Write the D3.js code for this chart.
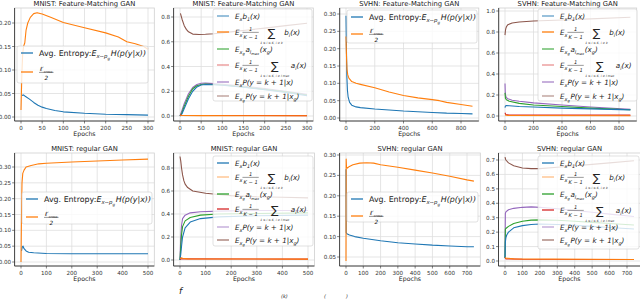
<!DOCTYPE html>
<html lang="en">
<head>
<meta charset="UTF-8">
<title>GAN entropy curves</title>
<style>
  body { margin: 0; background: #fff; }
  svg { font-family: "DejaVu Sans", sans-serif; }
  .tick-label { font-size: 5.6px; fill: #333; }
  .ptitle { font-size: 6.8px; fill: #222; text-anchor: middle; }
  .xlab { font-size: 6.2px; fill: #222; text-anchor: middle; }
  .leg text { fill: #222; }
</style>
</head>
<body>
<script src="https://d3js.org/d3.v7.min.js"></script>
<script>
// ---- data (epoch, value) ----
// MNIST, feature matching
const mnistFmEntropy = [[2,0.046],[6,0.047],[10,0.044],[20,0.038],[30,0.031],[40,0.025],[50,0.021],[60,0.018],[80,0.014],[100,0.011],[150,0.008],[200,0.006],[250,0.005],[300,0.004]]
const mnistFmCross = [[0,0.015],[2,0.09],[4,0.135],[6,0.15],[9,0.158],[12,0.185],[16,0.2],[22,0.212],[30,0.22],[38,0.222],[50,0.219],[70,0.212],[100,0.201],[150,0.19],[200,0.179],[230,0.17],[250,0.16],[270,0.156],[290,0.15],[300,0.144]]
const mnistFmB1 = [[0,0],[5,0.02],[10,0.06],[20,0.14],[30,0.2],[40,0.235],[50,0.25],[60,0.255],[80,0.252],[100,0.248],[150,0.232],[200,0.212],[250,0.19],[300,0.165]]
const mnistFmBi = [[0,0.008],[5,0.004],[50,0.003],[300,0.002]]
const mnistFmAg = [[0,0],[5,0.03],[10,0.08],[20,0.16],[30,0.22],[40,0.245],[50,0.255],[60,0.258],[80,0.255],[100,0.25],[150,0.235],[200,0.215],[250,0.195],[300,0.17]]
const mnistFmAi = [[0,0.01],[3,0.006],[50,0.004],[300,0.003]]
const mnistFmPx = [[0,0],[5,0.05],[10,0.1],[20,0.18],[30,0.23],[40,0.255],[50,0.265],[60,0.266],[80,0.262],[100,0.257],[150,0.242],[200,0.222],[250,0.2],[300,0.175]]
const mnistFmPg = [[1,0.83],[5,0.78],[10,0.73],[15,0.7],[20,0.68],[30,0.662],[45,0.658],[60,0.66],[80,0.665],[120,0.68],[160,0.695],[200,0.71],[250,0.73],[300,0.75]]
// SVHN, feature matching
const svhnFmEntropy = [[0,0.295],[3,0.2],[6,0.12],[10,0.08],[15,0.06],[25,0.045],[40,0.037],[70,0.032],[100,0.03],[200,0.026],[300,0.023],[400,0.02],[500,0.018],[600,0.016],[700,0.014],[800,0.013],[880,0.012]]
const svhnFmCross = [[0,0.235],[2,0.2],[4,0.17],[7,0.14],[12,0.125],[20,0.115],[40,0.105],[70,0.1],[100,0.097],[200,0.087],[300,0.075],[400,0.065],[500,0.058],[600,0.053],[650,0.05],[700,0.045],[800,0.039],[880,0.034]]
const svhnFmB1 = [[0,0.08],[3,0.095],[10,0.1],[30,0.098],[100,0.09],[200,0.085],[400,0.075],[600,0.068],[880,0.058]]
const svhnFmBi = [[0,0.01],[20,0.005],[880,0.003]]
const svhnFmAg = [[0,0.22],[3,0.17],[10,0.155],[30,0.14],[100,0.12],[200,0.105],[400,0.09],[600,0.075],[880,0.06]]
const svhnFmAi = [[0,0.03],[5,0.015],[30,0.01],[880,0.008]]
const svhnFmPx = [[0,0.31],[2,0.22],[5,0.19],[10,0.175],[20,0.165],[50,0.15],[100,0.14],[200,0.125],[400,0.105],[600,0.085],[880,0.065]]
const svhnFmPg = [[0,0.77],[2,0.8],[5,0.83],[10,0.85],[20,0.87],[50,0.885],[100,0.895],[200,0.905],[300,0.91],[400,0.915],[600,0.925],[880,0.94]]
// MNIST, regular GAN
const mnistRgEntropy = [[2,0.035],[5,0.048],[8,0.05],[12,0.042],[20,0.035],[30,0.031],[50,0.029],[100,0.027],[200,0.026],[300,0.026],[500,0.026]]
const mnistRgCross = [[0,0],[2,0.15],[4,0.25],[7,0.28],[12,0.29],[20,0.3],[40,0.305],[70,0.31],[100,0.312],[200,0.316],[300,0.319],[400,0.322],[500,0.325]]
const mnistRgB1 = [[0,0],[3,0.05],[6,0.12],[10,0.2],[20,0.28],[40,0.33],[80,0.36],[150,0.375],[300,0.385],[500,0.39]]
const mnistRgBi = [[0,0.01],[5,0.02],[10,0.015],[30,0.01],[500,0.008]]
const mnistRgAg = [[0,0],[3,0.12],[6,0.22],[10,0.29],[20,0.34],[40,0.37],[80,0.39],[150,0.4],[300,0.405],[500,0.41]]
const mnistRgAi = [[0,0.01],[500,0.008]]
const mnistRgPx = [[0,0],[3,0.2],[6,0.3],[10,0.36],[20,0.39],[40,0.41],[80,0.42],[150,0.425],[300,0.43],[500,0.43]]
const mnistRgPg = [[0,0.9],[3,0.86],[6,0.8],[10,0.74],[15,0.69],[20,0.66],[30,0.63],[50,0.6],[100,0.58],[150,0.57],[200,0.56],[300,0.55],[400,0.545],[500,0.54]]
// SVHN, regular GAN
const svhnRgEntropy = [[0,0.265],[1,0.11],[5,0.107],[20,0.104],[50,0.1],[100,0.096],[200,0.09],[300,0.085],[400,0.082],[500,0.079],[600,0.077],[700,0.075],[740,0.075]]
const svhnRgCross = [[0,0.04],[1,0.29],[3,0.27],[8,0.268],[20,0.272],[40,0.276],[80,0.28],[120,0.281],[160,0.28],[200,0.276],[300,0.27],[400,0.263],[500,0.256],[600,0.248],[700,0.239],[740,0.236]]
const svhnRgB1 = [[0,0.02],[2,0.13],[5,0.16],[10,0.18],[20,0.2],[50,0.23],[100,0.245],[150,0.253],[200,0.256],[300,0.253],[400,0.248],[500,0.24],[600,0.232],[740,0.222]]
const svhnRgBi = [[0,0.025],[5,0.02],[50,0.015],[740,0.01]]
const svhnRgAg = [[0,0.02],[2,0.22],[5,0.225],[20,0.24],[50,0.26],[100,0.275],[150,0.283],[200,0.285],[300,0.282],[400,0.275],[500,0.268],[600,0.26],[740,0.25]]
const svhnRgAi = [[0,0.02],[5,0.015],[100,0.012],[740,0.01]]
const svhnRgPx = [[0,0.02],[2,0.33],[5,0.34],[20,0.355],[50,0.365],[100,0.372],[150,0.375],[200,0.372],[300,0.362],[400,0.35],[500,0.338],[600,0.325],[740,0.308]]
const svhnRgPg = [[0,0.72],[5,0.7],[20,0.68],[50,0.66],[100,0.645],[150,0.64],[200,0.64],[300,0.65],[400,0.66],[500,0.67],[600,0.68],[740,0.695]]

const titles = ['MNIST: Feature-Matching GAN', 'MNIST: Feature-Matching GAN', 'SVHN: Feature-Matching GAN', 'SVHN: Feature-Matching GAN',
                'MNIST: regular GAN', 'MNIST: regular GAN', 'SVHN: regular GAN', 'SVHN: regular GAN']
const xTicksMnistFm = [0, 50, 100, 150, 200, 250, 300]
const xTicksSvhnFm = [0, 200, 400, 600, 800]
const xTicksMnistRg = [0, 100, 200, 300, 400, 500]
const xTicksSvhnRg = [0, 100, 200, 300, 400, 500, 600, 700]
const yTicks005a = [0, 0.05, 0.10, 0.15, 0.20]
const yTicks005b = [0, 0.05, 0.10, 0.15, 0.20, 0.25, 0.30]
const yTicks005c = [0.05, 0.10, 0.15, 0.20, 0.25, 0.30]
const yTicks02a = [0, 0.2, 0.4, 0.6, 0.8]
const yTicks02b = [0, 0.2, 0.4, 0.6, 0.8, 1.0]
const yTicks01 = [0, 0.1, 0.2, 0.3, 0.4, 0.5, 0.6, 0.7]

const blue = '#1f77b4', orange = '#ff7f0e', green = '#2ca02c', red = '#d62728', purple = '#9467bd', brown = '#8c564b'

// ---- math-ish legend labels ----
const entropyLab = [{t: 'Avg. Entropy: ', up: 1}, {t: 'E'}, {sub: 'x∼p', ss: 'g'}, {t: 'H(p(y|x))'}]
const crossLab = [{frac: {num: 'ℓ′', numSub: 'cross', den: '2'}}]
const rightLabs = [
  [{t: 'E'}, {sub: 'x'}, {t: 'b'}, {sub: '1'}, {t: '(x)'}],
  [{t: 'E'}, {sub: 'x'}, {frac: {num: '1', den: 'K − 1'}}, {sum: '1 ≤ i ≤ K, i ≠ k'}, {t: 'b'}, {sub: 'i'}, {t: '(x)'}],
  [{t: 'E'}, {sub: 'x', ss: 'g'}, {t: 'a'}, {sub: 'l', ss: 'max'}, {t: '(x'}, {sub: 'g'}, {t: ')'}],
  [{t: 'E'}, {sub: 'x'}, {frac: {num: '1', den: 'K − 1'}}, {sum: '1 ≤ i ≤ K, i ≠ l max'}, {t: 'a'}, {sub: 'i'}, {t: '(x)'}],
  [{t: 'E'}, {sub: 'x'}, {t: 'P(y = k + 1|x)'}],
  [{t: 'E'}, {sub: 'x', ss: 'g'}, {t: 'P(y = k + 1|x'}, {sub: 'g'}, {t: ')'}]
]

const panels = [
  {box: [14.6, 8, 154.3, 121], xa: [0, 21, 300, 148], ya: [0, 117, 0.2, 23], xt: xTicksMnistFm, yt: yTicks005a, yf: '.2f',
   series: [[mnistFmEntropy, blue], [mnistFmCross, orange]],
   legend: {box: [17, 46, 131, 37], rows: [53, 72], labels: [entropyLab, crossLab], colors: [blue, orange], fs: 7.9}},
  {box: [173.6, 8, 313.3, 121], xa: [0, 180, 300, 307], ya: [0, 116, 0.8, 17], xt: xTicksMnistFm, yt: yTicks02a, yf: '.1f',
   series: [[mnistFmPg, brown], [mnistFmPx, purple], [mnistFmAg, green], [mnistFmB1, blue], [mnistFmAi, red], [mnistFmBi, orange]],
   legend: {box: [213, 9, 99, 92], rows: [16, 32, 49, 65, 82, 96], labels: rightLabs, colors: [blue, orange, green, red, purple, brown], alpha: [0.7, 1, 0.8, 0.5, 0.8, 0.6], fs: 7.2}},
  {box: [339.7, 8, 478.8, 121], xa: [0, 346, 800, 461], ya: [0, 118, 0.3, 14], xt: xTicksSvhnFm, yt: yTicks005b, yf: '.2f',
   series: [[svhnFmEntropy, blue], [svhnFmCross, orange]],
   legend: {box: [347, 10, 130, 33], rows: [17, 34], labels: [entropyLab, crossLab], colors: [blue, orange], fs: 7.9}},
  {box: [498.7, 8, 636.7, 121], xa: [0, 505, 800, 619], ya: [0, 116, 1.0, 11], xt: xTicksSvhnFm, yt: yTicks02b, yf: '.1f',
   series: [[svhnFmPg, brown], [svhnFmPx, purple], [svhnFmAg, green], [svhnFmB1, blue], [svhnFmAi, red], [svhnFmBi, orange]],
   legend: {box: [538, 9, 99, 92], rows: [16, 32, 49, 65, 82, 96], labels: rightLabs, colors: [blue, orange, green, red, purple, brown], alpha: [0.7, 1, 0.8, 0.5, 0.8, 0.6], fs: 7.2}},
  {box: [14.6, 153, 154.3, 266], xa: [0, 21, 500, 148], ya: [0, 262, 0.3, 167], xt: xTicksMnistRg, yt: yTicks005b, yf: '.2f',
   series: [[mnistRgEntropy, blue], [mnistRgCross, orange]],
   legend: {box: [22, 192, 130, 32], rows: [199, 217], labels: [entropyLab, crossLab], colors: [blue, orange], fs: 7.9}},
  {box: [173.6, 153, 314.4, 266], xa: [0, 180, 500, 308], ya: [0, 260, 0.8, 168], xt: xTicksMnistRg, yt: yTicks02a, yf: '.1f',
   series: [[mnistRgPg, brown], [mnistRgPx, purple], [mnistRgAg, green], [mnistRgB1, blue], [mnistRgAi, red], [mnistRgBi, orange]],
   legend: {box: [213, 156, 100, 90], rows: [163, 177, 194, 209, 227, 240], labels: rightLabs, colors: [blue, orange, green, red, purple, brown], alpha: [1, 0.5, 1, 1, 0.6, 0.8], fs: 7.2}},
  {box: [339.6, 153, 480.3, 266], xa: [0, 346, 700, 467], ya: [0.05, 257, 0.3, 155], xt: xTicksSvhnRg, yt: yTicks005c, yf: '.2f',
   series: [[svhnRgEntropy, blue], [svhnRgCross, orange]],
   legend: {box: [347, 192, 131, 30], rows: [199, 216], labels: [entropyLab, crossLab], colors: [blue, orange], fs: 7.9}},
  {box: [498.5, 153, 640.4, 266], xa: [0, 505, 700, 627], ya: [0, 261, 0.7, 160], xt: xTicksSvhnRg, yt: yTicks01, yf: '.1f',
   series: [[svhnRgPg, brown], [svhnRgPx, purple], [svhnRgAg, green], [svhnRgB1, blue], [svhnRgAi, red], [svhnRgBi, orange]],
   legend: {box: [538, 156, 101, 93], rows: [163, 177, 194, 210, 227, 240], labels: rightLabs, colors: [blue, orange, green, red, purple, brown], alpha: [1, 0.5, 1, 1, 0.6, 0.8], fs: 7.2}}
]

const svg = d3.select('body').append('svg')
  .attr('width', 640)
  .attr('height', 300)

function addText (g, str, x, y, size, italic) {
  const t = g.append('text')
    .attr('x', x).attr('y', y)
    .attr('font-size', size)
    .attr('font-style', italic ? 'italic' : 'normal')
    .text(str)
  return [t, t.node().getComputedTextLength()]
}

// lays the pieces one after the other, measuring as it goes
function mathText (g, x, y, parts, fs) {
  let cx = x
  parts.forEach(p => {
    if (p.t !== undefined) {
      cx += addText(g, p.t, cx, y, fs, !p.up)[1]
    } else if (p.sub !== undefined) {
      cx += addText(g, p.sub, cx, y + fs * 0.3, fs * 0.68, true)[1]
      if (p.ss) cx += addText(g, p.ss, cx, y + fs * 0.5, fs * 0.5, true)[1] + fs * 0.1
    } else if (p.frac) {
      const s = fs * 0.72
      const [tn, wn0] = addText(g, p.frac.num, 0, y - fs * 0.42, s, true)
      let wn = wn0, ts = null
      if (p.frac.numSub) {
        const r = addText(g, p.frac.numSub, 0, y - fs * 0.22, s * 0.6, true)
        ts = r[0]; wn += r[1]
      }
      const [td, wd] = addText(g, p.frac.den, 0, y + fs * 0.62, s, true)
      const w = Math.max(wn, wd) + 2
      tn.attr('x', cx + (w - wn) / 2)
      if (ts) ts.attr('x', cx + (w - wn) / 2 + wn0)
      td.attr('x', cx + (w - wd) / 2)
      g.append('line').attr('x1', cx).attr('x2', cx + w)
        .attr('y1', y - fs * 0.3).attr('y2', y - fs * 0.3)
        .attr('stroke', '#222').attr('stroke-width', 0.45)
      cx += w + fs * 0.2
    } else if (p.sum) {
      // big sigma with its limits set low beneath it
      const [tsg, ws] = addText(g, '∑', 0, y + fs * 0.3, fs * 1.55, false)
      const [tu, wu] = addText(g, p.sum, 0, y + fs * 1.25, fs * 0.42, true)
      const w = Math.max(ws, wu)
      tsg.attr('x', cx + (w - ws) / 2)
      tu.attr('x', cx + (w - wu) / 2)
      cx += w + fs * 0.2
    }
  })
  return cx
}

panels.forEach((p, pi) => {
  const [x0, y0, x1, y1] = p.box
  const x = d3.scaleLinear().domain([p.xa[0], p.xa[2]]).range([p.xa[1], p.xa[3]])
  const y = d3.scaleLinear().domain([p.ya[0], p.ya[2]]).range([p.ya[1], p.ya[3]])
  const g = svg.append('g')

  // grid
  g.selectAll('.gx').data(p.xt).enter().append('line')
    .attr('x1', d => x(d)).attr('x2', d => x(d)).attr('y1', y0).attr('y2', y1)
    .attr('stroke', '#dedede').attr('stroke-width', 0.8)
  g.selectAll('.gy').data(p.yt).enter().append('line')
    .attr('x1', x0).attr('x2', x1).attr('y1', d => y(d)).attr('y2', d => y(d))
    .attr('stroke', '#dedede').attr('stroke-width', 0.8)

  // curves
  const clipId = 'clip' + pi
  svg.append('clipPath').attr('id', clipId).append('rect')
    .attr('x', x0).attr('y', y0).attr('width', x1 - x0).attr('height', y1 - y0)
  const line = d3.line().x(d => x(d[0])).y(d => y(d[1]))
  g.append('g').attr('clip-path', 'url(#' + clipId + ')')
    .selectAll('path').data(p.series).enter().append('path')
    .attr('d', d => line(d[0]))
    .attr('fill', 'none')
    .attr('stroke', d => d[1])
    .attr('stroke-width', 1.1)
    .attr('stroke-linejoin', 'round')

  // spines
  g.append('rect').attr('x', x0).attr('y', y0).attr('width', x1 - x0).attr('height', y1 - y0)
    .attr('fill', 'none').attr('stroke', '#cfcfcf').attr('stroke-width', 0.8)
  g.append('line').attr('x1', x0).attr('x2', x0).attr('y1', y0).attr('y2', y1).attr('stroke', '#333').attr('stroke-width', 0.9)
  g.append('line').attr('x1', x0).attr('x2', x1).attr('y1', y1).attr('y2', y1).attr('stroke', '#333').attr('stroke-width', 0.9)

  // ticks and labels
  const fy = d3.format(p.yf)
  p.yt.forEach(v => {
    g.append('line').attr('x1', x0 - 2.5).attr('x2', x0).attr('y1', y(v)).attr('y2', y(v)).attr('stroke', '#333').attr('stroke-width', 0.6)
    g.append('text').attr('class', 'tick-label').attr('x', x0 - 3.5).attr('y', y(v) + 2)
      .attr('text-anchor', 'end').text(fy(v))
  })
  p.xt.forEach(v => {
    g.append('line').attr('x1', x(v)).attr('x2', x(v)).attr('y1', y1).attr('y2', y1 + 2.5).attr('stroke', '#333').attr('stroke-width', 0.6)
    g.append('text').attr('class', 'tick-label').attr('x', x(v)).attr('y', y1 + 8.5)
      .attr('text-anchor', 'middle').text(v)
  })
  g.append('text').attr('class', 'ptitle').attr('x', (x0 + x1) / 2).attr('y', y0 - 2.2).text(titles[pi])
  g.append('text').attr('class', 'xlab').attr('x', (x0 + x1) / 2).attr('y', y1 + 15).text('Epochs')

  // legend
  const L = p.legend
  const lg = g.append('g').attr('class', 'leg')
  lg.append('rect').attr('x', L.box[0]).attr('y', L.box[1]).attr('width', L.box[2]).attr('height', L.box[3])
    .attr('rx', 2).attr('fill', '#fff').attr('fill-opacity', 0.8)
    .attr('stroke', '#cccccc').attr('stroke-width', 0.6)
  L.rows.forEach((ry, i) => {
    lg.append('line').attr('x1', L.box[0] + 4).attr('x2', L.box[0] + 16).attr('y1', ry).attr('y2', ry)
      .attr('stroke', L.colors[i]).attr('stroke-width', 1.3)
      .attr('stroke-opacity', L.alpha ? L.alpha[i] : 1)
    mathText(lg, L.box[0] + 22, ry + L.fs * 0.35, L.labels[i], L.fs)
  })
})

// caption line at the bottom edge
const cap = svg.append('g').attr('fill', '#222')
cap.append('text').attr('x', 179).attr('y', 294).attr('font-size', 9).attr('font-style', 'italic').text('f')
cap.append('text').attr('x', 281).attr('y', 297.5).attr('font-size', 5).attr('font-style', 'italic').text('(k)')
cap.append('text').attr('x', 324).attr('y', 297.5).attr('font-size', 5).attr('font-style', 'italic').text('(')
cap.append('text').attr('x', 346).attr('y', 297.5).attr('font-size', 5).attr('font-style', 'italic').text(')')
</script>
</body>
</html>
